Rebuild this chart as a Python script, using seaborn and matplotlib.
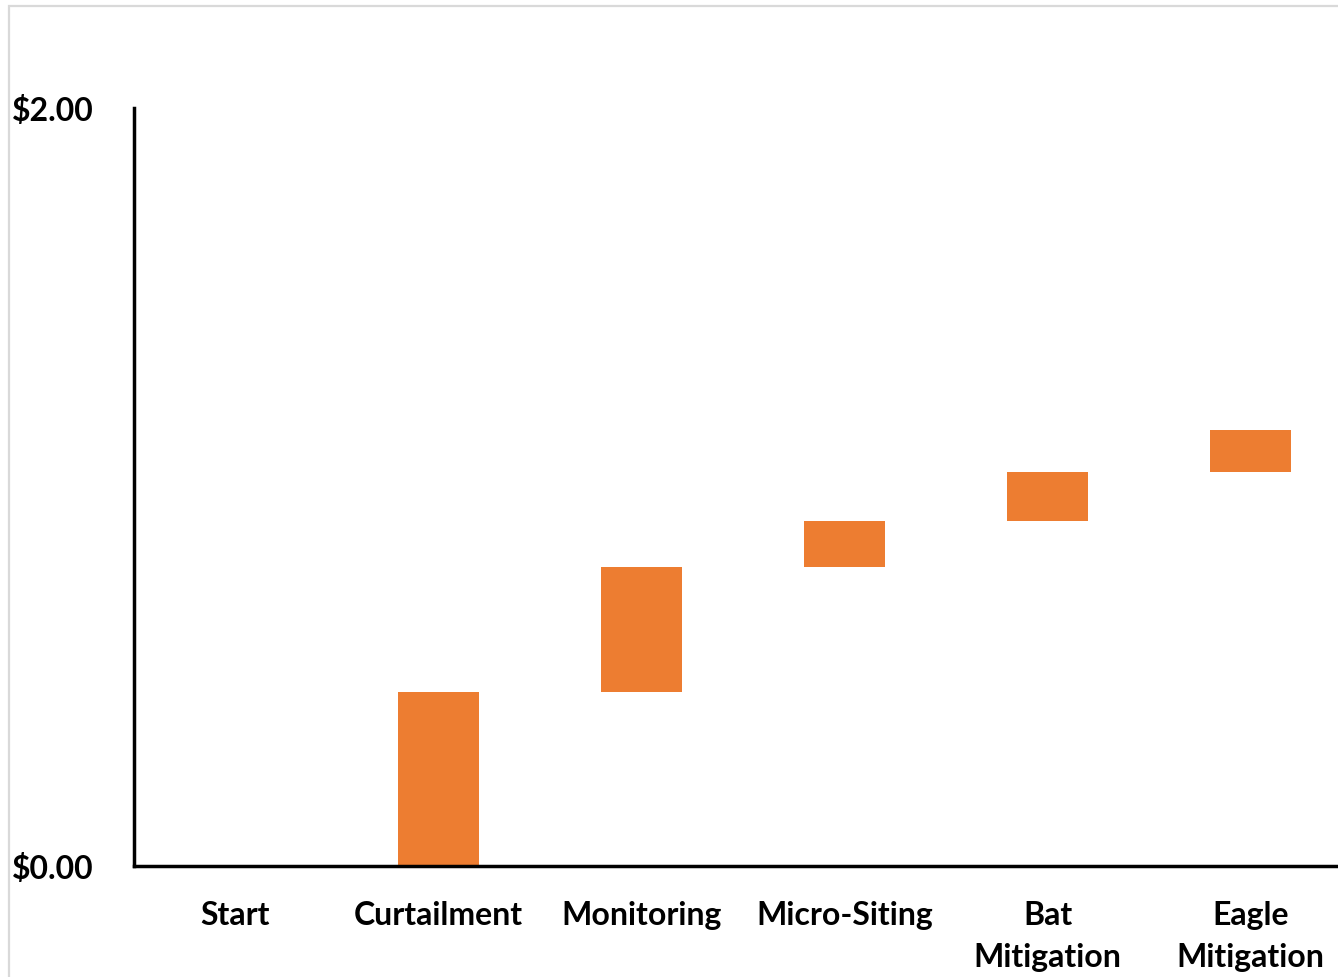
import matplotlib
matplotlib.use("Agg")
import matplotlib.pyplot as plt
from matplotlib.patches import Rectangle
from matplotlib.ticker import FuncFormatter
import numpy as np
import pandas as pd
import seaborn as sns

# Cost steps of the waterfall ($ per unit)
categories = ["Start", "Curtailment", "Monitoring", "Micro-Siting",
              "Bat\nMitigation", "Eagle\nMitigation"]
increments = [0.00, 0.46, 0.33, 0.12, 0.13, 0.11]

# Each step sits on the running total of the steps before it
totals = np.cumsum(increments)
bases = totals - np.array(increments)

df = pd.DataFrame({"category": categories, "increment": increments, "base": bases})

sns.set_theme(style="white")
plt.rcParams["font.family"] = ["Lato", "DejaVu Sans"]

W, H = 1338, 977
fig = plt.figure(figsize=(W / 100, H / 100), dpi=100)
fig.patch.set_facecolor("white")

# Plot area: left spine at x=134 px, zero line at y=866 px, $2.00 at y=108 px
left, right = 134 / W, 1352 / W
bottom, top = (H - 866) / H, (H - 108) / H
ax = fig.add_axes([left, bottom, right - left, top - bottom])

sns.barplot(data=df, x="category", y="increment", order=categories,
            bottom=df["base"].to_numpy(), color="#ED7D31", saturation=1,
            width=0.4, edgecolor="none", ax=ax)

ax.set_xlim(-0.5, len(categories) - 0.5)
ax.set_ylim(0, 2.0)
ax.set_yticks([0, 2.0])
ax.yaxis.set_major_formatter(FuncFormatter(lambda v, _: f"${v:.2f}"))
ax.set_xlabel("")
ax.set_ylabel("")

for side in ("top", "right"):
    ax.spines[side].set_visible(False)
for side in ("left", "bottom"):
    ax.spines[side].set_color("black")
    ax.spines[side].set_linewidth(2.5)

ax.tick_params(axis="both", length=0)
ax.tick_params(axis="y", pad=29)
ax.tick_params(axis="x", pad=25)
for lbl in ax.get_yticklabels():
    lbl.set_fontsize(23)
    lbl.set_fontweight("bold")
    lbl.set_color("black")
for lbl in ax.get_xticklabels():
    lbl.set_fontsize(23)
    lbl.set_fontweight("bold")
    lbl.set_color("black")
    lbl.set_linespacing(1.55)

# Light chart-area frame
fig.add_artist(Rectangle((9 / W, -0.1), 1.2, (H - 6) / H + 0.1,
                         transform=fig.transFigure, fill=False,
                         edgecolor="#d9d9d9", linewidth=1.6))

fig.savefig("out.png", dpi=100, facecolor="white")
